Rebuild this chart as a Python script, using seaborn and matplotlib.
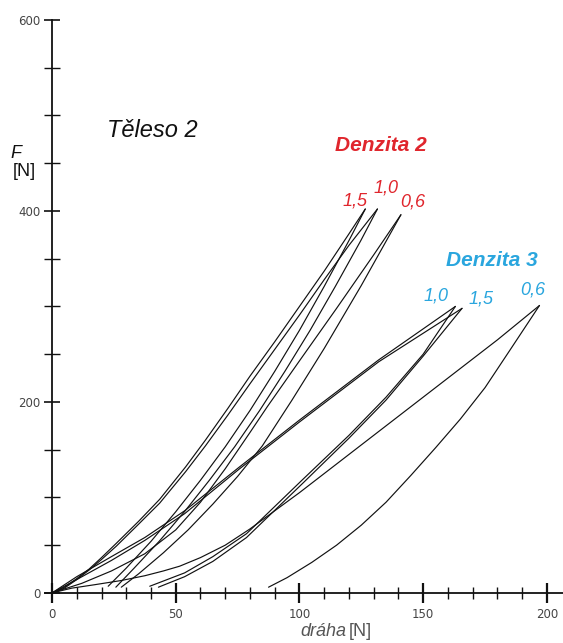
import numpy as np
import pandas as pd
import matplotlib
matplotlib.use("Agg")
import matplotlib.pyplot as plt
import seaborn as sns
from matplotlib.ticker import MultipleLocator, FixedLocator

# ---- data ----
# Denzita 2 loops
d2_15_load_x = [0, 5, 10, 15, 20, 26, 35, 43.5, 54, 62, 71, 80, 90, 100, 110, 120, 126.6]
d2_15_load_F = [0, 6, 15, 25, 37, 52, 75, 98, 132, 160, 193, 227, 263, 300, 337, 376, 402]
d2_15_unl_x = [22.7, 30, 40, 50, 60, 70, 80, 90, 100, 110, 120, 126.6]
d2_15_unl_F = [7, 26, 54, 85, 118, 153, 191, 232, 275, 321, 369, 402]

d2_10_load_x = [0, 5, 10, 15, 20, 26, 35, 43.5, 54, 62, 71, 80, 90, 100, 110, 120, 131.5]
d2_10_load_F = [0, 5, 14, 24, 35, 49, 72, 94, 127, 154, 186, 219, 255, 291, 328, 364, 402]
d2_10_unl_x = [25.8, 33.2, 43.3, 53.5, 63.6, 73.8, 83.9, 94.1, 104.3, 114.5, 124.8, 131.5]
d2_10_unl_F = [6, 26, 54, 85, 118, 153, 191, 232, 275, 321, 369, 402]

d2_06_load_x = [0, 12, 24, 37.5, 50, 60, 70, 80, 87, 100, 115, 130, 141]
d2_06_load_F = [0, 10, 23, 41, 66, 95, 130, 168, 195, 243, 298, 354, 396]
d2_06_unl_x = [28, 35, 45, 55, 65, 75, 85, 97, 110, 125, 141]
d2_06_unl_F = [6, 20, 42, 66, 93, 122, 154, 202, 256, 322, 396]

# Denzita 3 loops
d3_10_load_x = [0, 10, 24, 37.5, 53.6, 75.8, 100, 132, 163]
d3_10_load_F = [0, 17, 38, 58, 86, 132, 181, 244, 300]
d3_10_unl_x = [39.5, 53.6, 65, 78.6, 101, 120, 135, 150, 163]
d3_10_unl_F = [7, 21, 38, 62, 118, 165, 205, 250, 300]

d3_15_load_x = [0, 10, 24, 37.5, 53.6, 75.8, 100, 132, 165.7]
d3_15_load_F = [0, 14, 34, 55, 83, 130, 179, 242, 298]
d3_15_unl_x = [43, 53.6, 65, 78.6, 101, 120, 135, 150, 165.7]
d3_15_unl_F = [6, 17, 33, 58, 114, 162, 202, 248, 298]

d3_06_load_x = [0, 8, 17, 28, 37.5, 45, 51.6, 60, 70, 80, 90, 100, 110, 120, 130, 140,
                150, 160, 170, 180, 197]
d3_06_load_F = [0, 5, 8.5, 13, 18, 23, 28, 37, 50, 67, 86, 105, 125, 145, 165, 185,
                205, 225, 245, 265, 301]
d3_06_unl_x = [87.5, 95, 105, 115, 125, 135, 145, 155, 165, 175, 185, 197]
d3_06_unl_F = [6, 16, 32, 50, 71, 95, 123, 152, 182, 215, 254, 301]

x_ticks_major = [0, 50, 100, 150, 200]
y_ticks_major = [0, 200, 400, 600]

d2_labels = ["1,5", "1,0", "0,6"]
d3_labels = ["1,0", "1,5", "0,6"]

curves = {
    "d2_15_load": (d2_15_load_x, d2_15_load_F), "d2_15_unl": (d2_15_unl_x, d2_15_unl_F),
    "d2_10_load": (d2_10_load_x, d2_10_load_F), "d2_10_unl": (d2_10_unl_x, d2_10_unl_F),
    "d2_06_load": (d2_06_load_x, d2_06_load_F), "d2_06_unl": (d2_06_unl_x, d2_06_unl_F),
    "d3_10_load": (d3_10_load_x, d3_10_load_F), "d3_10_unl": (d3_10_unl_x, d3_10_unl_F),
    "d3_15_load": (d3_15_load_x, d3_15_load_F), "d3_15_unl": (d3_15_unl_x, d3_15_unl_F),
    "d3_06_load": (d3_06_load_x, d3_06_load_F), "d3_06_unl": (d3_06_unl_x, d3_06_unl_F),
}
rows = []
for name, (xs, fs) in curves.items():
    for i, (xv, fv) in enumerate(zip(xs, fs)):
        rows.append({"curve": name, "order": i, "x": xv, "F": fv})
df = pd.DataFrame(rows)

# ---- style ----
sns.set_style("white")
plt.rcParams["font.family"] = ["Liberation Sans", "DejaVu Sans"]

fig = plt.figure(figsize=(5.63, 6.43), dpi=100)
ax = fig.add_axes([0.0792, 0.066, 0.9208, 0.903])

sns.lineplot(data=df, x="x", y="F", units="curve", estimator=None, sort=False,
             color="#111111", linewidth=0.85, ax=ax, legend=False)

ax.set_xlim(-3, 206.5)
ax.set_ylim(-8, 600)

for s in ["top", "right"]:
    ax.spines[s].set_visible(False)
ax.spines["left"].set_position(("data", 0))
ax.spines["bottom"].set_position(("data", 0))
for s in ["left", "bottom"]:
    ax.spines[s].set_color("#111111")
    ax.spines[s].set_linewidth(1.3)

ax.xaxis.set_major_locator(FixedLocator(x_ticks_major))
ax.xaxis.set_minor_locator(MultipleLocator(10))
ax.yaxis.set_major_locator(FixedLocator(y_ticks_major))
ax.yaxis.set_minor_locator(MultipleLocator(50))
ax.tick_params(which="both", bottom=True, left=True, top=False, right=False)
ax.tick_params(axis="x", which="major", direction="inout", length=14, width=1.6,
               color="#111111", labelsize=8.5, labelcolor="#444444", pad=4)
ax.tick_params(axis="x", which="minor", direction="inout", length=8, width=1.0, color="#111111")
ax.tick_params(axis="y", which="major", direction="inout", length=11, width=1.2,
               color="#111111", labelsize=8.5, labelcolor="#444444", pad=3)
ax.tick_params(axis="y", which="minor", direction="inout", length=11, width=1.0, color="#111111")
for lab in ax.get_xticklabels() + ax.get_yticklabels():
    lab.set_family("DejaVu Sans")
ax.set_xlabel("")
ax.set_ylabel("")

# ---- texts ----
red = "#e0262d"
blue = "#2aa6de"
ax.text(40.4, 484, "Těleso 2", fontsize=17, style="italic", color="#111111",
        ha="center", va="center")
ax.text(132.9, 469, "Denzita 2", fontsize=15, style="italic", weight="bold", color=red,
        ha="center", va="center")
ax.text(122.4, 410.5, d2_labels[0], fontsize=13, style="italic", color=red, ha="center", va="center")
ax.text(135.0, 424, d2_labels[1], fontsize=13, style="italic", color=red, ha="center", va="center")
ax.text(145.9, 409, d2_labels[2], fontsize=13, style="italic", color=red, ha="center", va="center")
ax.text(177.8, 347.6, "Denzita 3", fontsize=15, style="italic", weight="bold", color=blue,
        ha="center", va="center")
ax.text(155.2, 311, d3_labels[0], fontsize=13, style="italic", color=blue, ha="center", va="center")
ax.text(173.3, 308, d3_labels[1], fontsize=13, style="italic", color=blue, ha="center", va="center")
ax.text(194.3, 317, d3_labels[2], fontsize=13, style="italic", color=blue, ha="center", va="center")

# axis labels
fig.text(16 / 563, 1 - 153 / 643, "F", fontsize=13, style="italic", color="#111111",
         ha="center", va="center")
fig.text(24 / 563, 1 - 171 / 643, "[N]", fontsize=13, color="#111111", ha="center", va="center")
fig.text(346 / 563, 1 - 632 / 643, "dráha", fontsize=13, style="italic", color="#555555",
         ha="right", va="center")
fig.text(349 / 563, 1 - 632 / 643, "[N]", fontsize=13, color="#555555", ha="left", va="center")

fig.savefig("out.png", dpi=100)
